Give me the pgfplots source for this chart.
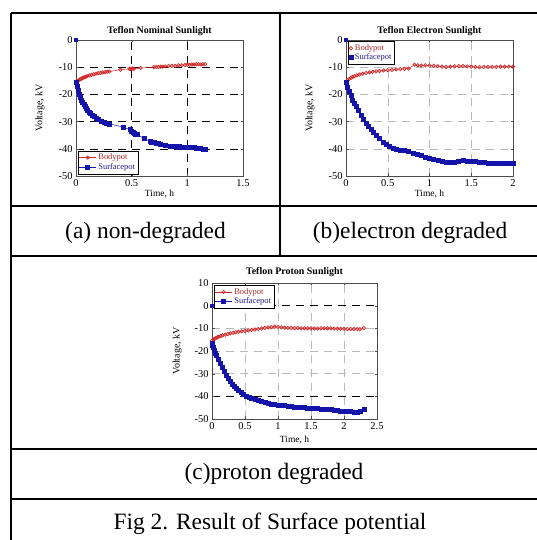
\documentclass[border=0pt]{standalone}
\usepackage{fontspec}
\setmainfont{Liberation Serif}
\usepackage{pgfplots}
\pgfplotsset{compat=1.18}
\definecolor{bpred}{RGB}{210,40,40}
\definecolor{spblue}{RGB}{20,20,170}
\definecolor{bptext}{RGB}{170,40,40}
\definecolor{sptext}{RGB}{30,30,140}

\pgfplotsset{
  potaxis/.style={
    scale only axis, anchor=south west,
    width=167bp, height=136bp,
    ymin=-50, ymax=0, ytick={-50,-40,...,0},
    axis line style={gray!60!black, line width=0.5pt},
    tick align=inside, major tick length=2.5bp,
    tick style={gray!60!black},
    grid=major,
    major grid style={black, dash pattern=on 8bp off 6bp, line width=0.5pt},
    tick label style={font=\fontsize{10.5}{11}\selectfont, /pgf/number format/assume math mode=true},
    every axis title/.style={font=\fontsize{10}{11}\selectfont\bfseries, at={(axis description cs:0.5,1.065)}, anchor=center},
    xlabel={Time, h}, ylabel={Voltage, kV},
    every axis x label/.style={at={(axis description cs:0.5,-0.135)}, anchor=center, font=\fontsize{9.5}{11}\selectfont},
    every axis y label/.style={at={(axis description cs:-0.215,0.5)}, rotate=90, anchor=center, font=\fontsize{10}{11}\selectfont},
    legend style={font=\fontsize{8.5}{8.5}\selectfont, draw=black, line width=0.4pt, inner sep=1pt,
      /tikz/every even column/.append style={column sep=1pt}, row sep=-2pt},
    legend cell align=left,
  },
  bodypot/.style={bpred, mark=o, mark size=1.7bp, line width=0.5pt, mark options={solid, line width=0.7pt}},
  surfpot/.style={spblue, mark=square*, mark size=2bp, line width=0.5pt},
}

\begin{document}
\begin{tikzpicture}[x=1bp,y=1bp]
\useasboundingbox (0,0) rectangle (537,540);

% table rules
\begin{scope}[line width=1.3bp]
\draw (11,0) -- (11,527);
\draw (11,527) -- (537,527);
\draw (280,527) -- (280,284);
\draw (11,334) -- (537,334);
\draw (11,284) -- (537,284);
\draw (11,91) -- (537,91);
\draw (11,41) -- (537,41);
\end{scope}

\begin{axis}[potaxis, at={(76bp,364bp)},
  title={Teflon Nominal Sunlight},
  xmin=0, xmax=1.5, xtick={0,0.5,1,1.5},
  legend style={at={(0.01,0.015)}, anchor=south west}]
\addplot[bodypot] coordinates {
(0,-15.5) (0.01,-15.2) (0.02,-14.9) (0.03,-14.6) (0.04,-14.4) (0.05,-14.2) (0.06,-14.0)
(0.07,-13.8) (0.08,-13.6) (0.09,-13.5) (0.10,-13.3) (0.12,-13.0) (0.14,-12.8) (0.16,-12.6)
(0.18,-12.4) (0.20,-12.2) (0.22,-12.1) (0.24,-11.9) (0.26,-11.8) (0.28,-11.7) (0.30,-11.6)
(0.40,-10.9) (0.48,-10.6) (0.49,-10.7) (0.50,-10.6) (0.51,-10.5) (0.52,-10.6) (0.58,-10.3)
(0.70,-10.0) (0.72,-9.9) (0.74,-9.9) (0.76,-9.8) (0.78,-9.8) (0.80,-9.7) (0.83,-9.6)
(0.86,-9.5) (0.89,-9.5) (0.92,-9.3) (0.95,-9.3) (0.98,-9.2) (1.00,-9.1) (1.02,-9.1)
(1.04,-9.0) (1.06,-9.0) (1.08,-8.9) (1.10,-8.9) (1.12,-9.0) (1.14,-8.9) (1.16,-8.9)};
\addlegendentry{\textcolor{bptext}{Bodypot}}
\addplot[surfpot] coordinates {
(0,-15.5) (0.01,-17.0) (0.02,-18.5) (0.03,-19.8) (0.04,-21.0) (0.05,-22.0) (0.06,-23.0)
(0.07,-23.8) (0.08,-24.5) (0.09,-25.1) (0.10,-25.7) (0.115,-26.4) (0.13,-27.0) (0.145,-27.6)
(0.16,-28.2) (0.18,-28.8) (0.20,-29.3) (0.225,-29.8) (0.25,-30.2) (0.275,-30.5) (0.30,-30.8)
(0.42,-32.0) (0.49,-33.0) (0.50,-33.4) (0.51,-33.8) (0.52,-34.3) (0.53,-34.6) (0.55,-34.8)
(0.61,-36.2) (0.67,-37.3) (0.68,-37.5) (0.70,-37.7) (0.72,-37.9) (0.74,-38.1) (0.76,-38.3)
(0.80,-38.8) (0.85,-39.1) (0.87,-39.2) (0.89,-39.2) (0.91,-39.3) (0.93,-39.2) (0.96,-39.3)
(1.00,-39.3) (1.02,-39.4) (1.04,-39.5) (1.06,-39.6) (1.08,-39.8) (1.10,-39.8) (1.12,-39.9)
(1.14,-40.0) (1.16,-40.0)};
\addlegendentry{\textcolor{sptext}{Surfacepot}}
\addplot[surfpot, only marks, mark size=1.4bp, forget plot] coordinates {(0,0)};
\end{axis}

\begin{axis}[potaxis, at={(346bp,364bp)},
  title={Teflon Electron Sunlight},
  xmin=0, xmax=2, xtick={0,0.5,1,1.5,2},
  major grid style={gray!55, dash pattern=on 8bp off 6bp, line width=0.5pt},
  legend style={at={(0.01,0.99)}, anchor=north west},
  legend image code/.code={\draw[#1] plot[only marks] coordinates {(0.15cm,0cm)};}]
\addplot[bodypot] coordinates {
(0,-15.5) (0.02,-14.8) (0.04,-14.3) (0.06,-13.9) (0.08,-13.6) (0.10,-13.3) (0.13,-13.0)
(0.16,-12.7) (0.20,-12.4) (0.24,-12.1) (0.28,-11.9) (0.32,-11.7) (0.36,-11.5) (0.40,-11.4)
(0.45,-11.2) (0.50,-11.1) (0.55,-11.0) (0.60,-10.8) (0.65,-10.7) (0.70,-10.6) (0.75,-10.5)
(0.82,-9.1) (0.86,-9.3) (0.90,-9.4) (0.95,-9.3) (1.00,-9.4) (1.05,-9.5) (1.10,-9.6)
(1.15,-9.8) (1.20,-9.9) (1.25,-9.8) (1.30,-9.7) (1.35,-9.6) (1.40,-9.6) (1.45,-9.7)
(1.50,-9.8) (1.55,-9.9) (1.60,-10.0) (1.65,-9.9) (1.70,-9.9) (1.75,-9.9) (1.80,-9.9)
(1.85,-9.8) (1.90,-9.8) (1.95,-9.8) (2.00,-9.8)};
\addlegendentry{\textcolor{bptext}{Bodypot}}
\addplot[surfpot] coordinates {
(0,-15.5) (0.02,-17.5) (0.04,-19.0) (0.06,-20.5) (0.08,-22.0) (0.10,-23.3) (0.12,-24.5)
(0.15,-26.0) (0.18,-27.5) (0.21,-29.0) (0.24,-30.5) (0.27,-31.8) (0.30,-33.0) (0.33,-34.0)
(0.36,-35.0) (0.40,-36.2) (0.44,-37.5) (0.48,-38.4) (0.52,-39.2) (0.56,-39.8) (0.60,-40.2)
(0.65,-40.5) (0.70,-40.7) (0.75,-41.0) (0.80,-41.5) (0.85,-42.0) (0.90,-42.5) (0.95,-43.0)
(1.00,-43.4) (1.05,-43.8) (1.10,-44.2) (1.15,-44.6) (1.20,-45.0) (1.25,-45.1) (1.30,-45.0)
(1.35,-44.6) (1.40,-44.2) (1.45,-44.4) (1.50,-44.6) (1.55,-44.7) (1.60,-44.8) (1.65,-45.0)
(1.70,-45.2) (1.75,-45.3) (1.80,-45.4) (1.85,-45.3) (1.90,-45.3) (1.95,-45.2) (2.00,-45.2)};
\addlegendentry{\textcolor{sptext}{Surfacepot}}
\addplot[surfpot, only marks, mark size=1.4bp, forget plot] coordinates {(0,0)};
\end{axis}

\begin{axis}[potaxis, at={(212bp,121bp)}, width=165bp,
  title={Teflon Proton Sunlight},
  xmin=0, xmax=2.5, xtick={0,0.5,1,1.5,2,2.5},
  ymin=-50, ymax=10, ytick={-50,-40,...,10},
  major grid style={gray!55, dash pattern=on 8bp off 6bp, line width=0.5pt},
  extra y ticks={0,-40}, extra y tick labels={},
  extra y tick style={grid=major, major grid style={black, dash pattern=on 8bp off 6bp, line width=0.5pt}},
  every axis title/.style={font=\fontsize{10}{11}\selectfont\bfseries, at={(axis description cs:0.5,1.078)}, anchor=center},
  every axis x label/.style={at={(axis description cs:0.5,-0.155)}, anchor=center, font=\fontsize{9.5}{11}\selectfont},
  every axis y label/.style={at={(axis description cs:-0.21,0.5)}, rotate=90, anchor=center, font=\fontsize{10}{11}\selectfont},
  legend style={at={(0.01,0.985)}, anchor=north west}]
\addplot[bodypot] coordinates {
(0,-15.5) (0.02,-15.0) (0.04,-14.6) (0.06,-14.3) (0.08,-14.0) (0.10,-13.7) (0.13,-13.4)
(0.16,-13.1) (0.20,-12.8) (0.24,-12.5) (0.28,-12.2) (0.32,-12.0) (0.36,-11.7) (0.40,-11.5)
(0.45,-11.3) (0.50,-11.1) (0.55,-10.9) (0.60,-10.7) (0.65,-10.5) (0.70,-10.3) (0.75,-10.1)
(0.80,-9.8) (0.85,-9.6) (0.90,-9.5) (0.95,-9.2) (1.00,-9.4) (1.05,-9.6) (1.10,-9.7)
(1.15,-9.8) (1.20,-9.8) (1.25,-9.9) (1.30,-9.9) (1.35,-10.0) (1.40,-10.0) (1.45,-10.0)
(1.50,-10.0) (1.55,-10.1) (1.60,-10.1) (1.65,-10.0) (1.70,-10.0) (1.75,-10.0) (1.80,-10.0)
(1.85,-10.1) (1.90,-10.1) (1.95,-10.2) (2.00,-10.2) (2.05,-10.3) (2.10,-10.3) (2.15,-10.3)
(2.20,-10.3) (2.24,-10.4) (2.30,-9.9)};
\addlegendentry{\textcolor{bptext}{Bodypot}}
\addplot[surfpot] coordinates {
(0,-16.5) (0.01,-17.5) (0.02,-18.5) (0.03,-19.5) (0.05,-20.8) (0.07,-22.0) (0.10,-23.5)
(0.13,-25.5) (0.16,-27.3) (0.19,-29.0) (0.22,-30.7) (0.25,-32.0) (0.28,-33.3) (0.31,-34.5)
(0.34,-35.6) (0.37,-36.5) (0.40,-37.3) (0.44,-38.3) (0.48,-39.1) (0.52,-39.8) (0.56,-40.4)
(0.60,-41.0) (0.65,-41.5) (0.70,-41.9) (0.75,-42.3) (0.80,-42.7) (0.85,-43.0) (0.90,-43.3)
(0.95,-43.6) (1.00,-43.8) (1.05,-44.0) (1.10,-44.1) (1.15,-44.3) (1.20,-44.4) (1.25,-44.6)
(1.30,-44.7) (1.35,-44.9) (1.40,-45.0) (1.45,-45.1) (1.50,-45.2) (1.55,-45.3) (1.60,-45.4)
(1.65,-45.5) (1.70,-45.6) (1.75,-45.7) (1.80,-45.9) (1.85,-46.1) (1.90,-46.3) (1.95,-46.5)
(2.00,-46.6) (2.05,-46.7) (2.10,-46.8) (2.15,-46.9) (2.20,-46.9) (2.24,-46.8) (2.30,-45.8)};
\addlegendentry{\textcolor{sptext}{Surfacepot}}
\addplot[surfpot, only marks, mark size=1.4bp, forget plot] coordinates {(0,0)};
\end{axis}

% captions
\begin{scope}[every node/.style={font=\fontsize{23.5}{26}\selectfont, anchor=base, inner sep=0pt}]
\node at (145.5,301) {(a) non-degraded};
\node at (410,301) {(b)electron degraded};
\node at (274,60) {(c)proton degraded};
\node at (270,10) {Fig 2. Result of Surface potential};
\end{scope}
\end{tikzpicture}
\end{document}
